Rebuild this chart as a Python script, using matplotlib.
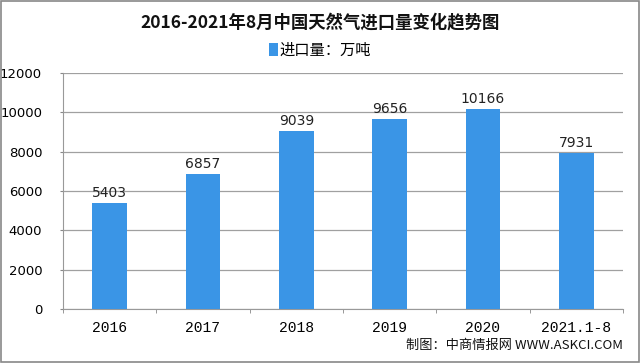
import matplotlib.pyplot as plt
from matplotlib.patches import Rectangle

plt.rcParams['font.family'] = ['Noto Sans CJK SC', 'DejaVu Sans']

years = ['2016', '2017', '2018', '2019', '2020', '2021.1-8']
imports = [5403, 6857, 9039, 9656, 10166, 7931]
yticks = [0, 2000, 4000, 6000, 8000, 10000, 12000]

bar_color = '#3a95e6'

fig = plt.figure(figsize=(6.4, 3.63), dpi=100)
ax = fig.add_axes([0.0984, 0.1488, 0.875, 0.650])

x = range(len(years))
bars = ax.bar(x, imports, width=0.37, color=bar_color, zorder=3, label='进口量：万吨')
for xi, v in zip(x, imports):
    ax.text(xi, v + 150, str(v), ha='center', va='bottom', fontsize=10,
            family=['DejaVu Sans'], color='#222222')

ax.set_xlim(-0.5, len(years) - 0.5)
ax.set_ylim(0, 12000)
ax.set_yticks(yticks)
ax.set_yticklabels([str(t) for t in yticks], fontsize=9.5, family=['DejaVu Sans'])
ax.set_xticks(list(x))
ax.set_xticklabels(years, fontsize=10.5, family=['Liberation Mono'])
ax.set_xticks([i - 0.5 for i in range(len(years) + 1)], minor=True)
ax.tick_params(axis='x', which='major', length=0, pad=9)
ax.tick_params(axis='x', which='minor', length=3, color='#888888')
ax.tick_params(axis='y', length=2.5, color='#888888', pad=12.5)
ax.grid(axis='y', color='#a0a0a0', linewidth=0.9, zorder=0)
for s in ['top', 'right']:
    ax.spines[s].set_visible(False)
ax.spines['left'].set_color('#999999')
ax.spines['bottom'].set_color('#999999')

fig.text(0.5, 0.939, '2016-2021年8月中国天然气进口量变化趋势图', ha='center', va='center',
         fontsize=12.5, fontweight='bold', color='#111111')
fig.legend(handles=[bars], loc='center', bbox_to_anchor=(0.5, 0.862), frameon=False,
           fontsize=11, handlelength=0.6, handleheight=0.9, handletextpad=0.1)
fig.text(0.973, 0.047, '制图：中商情报网 WWW.ASKCI.COM', ha='right', va='center',
         fontsize=9.5, color='#111111')

fig.patches.append(Rectangle((0.002, 0.003), 0.996, 0.994, transform=fig.transFigure,
                             fill=False, edgecolor='#888888', linewidth=1.2))

fig.savefig('out.png', dpi=100)
